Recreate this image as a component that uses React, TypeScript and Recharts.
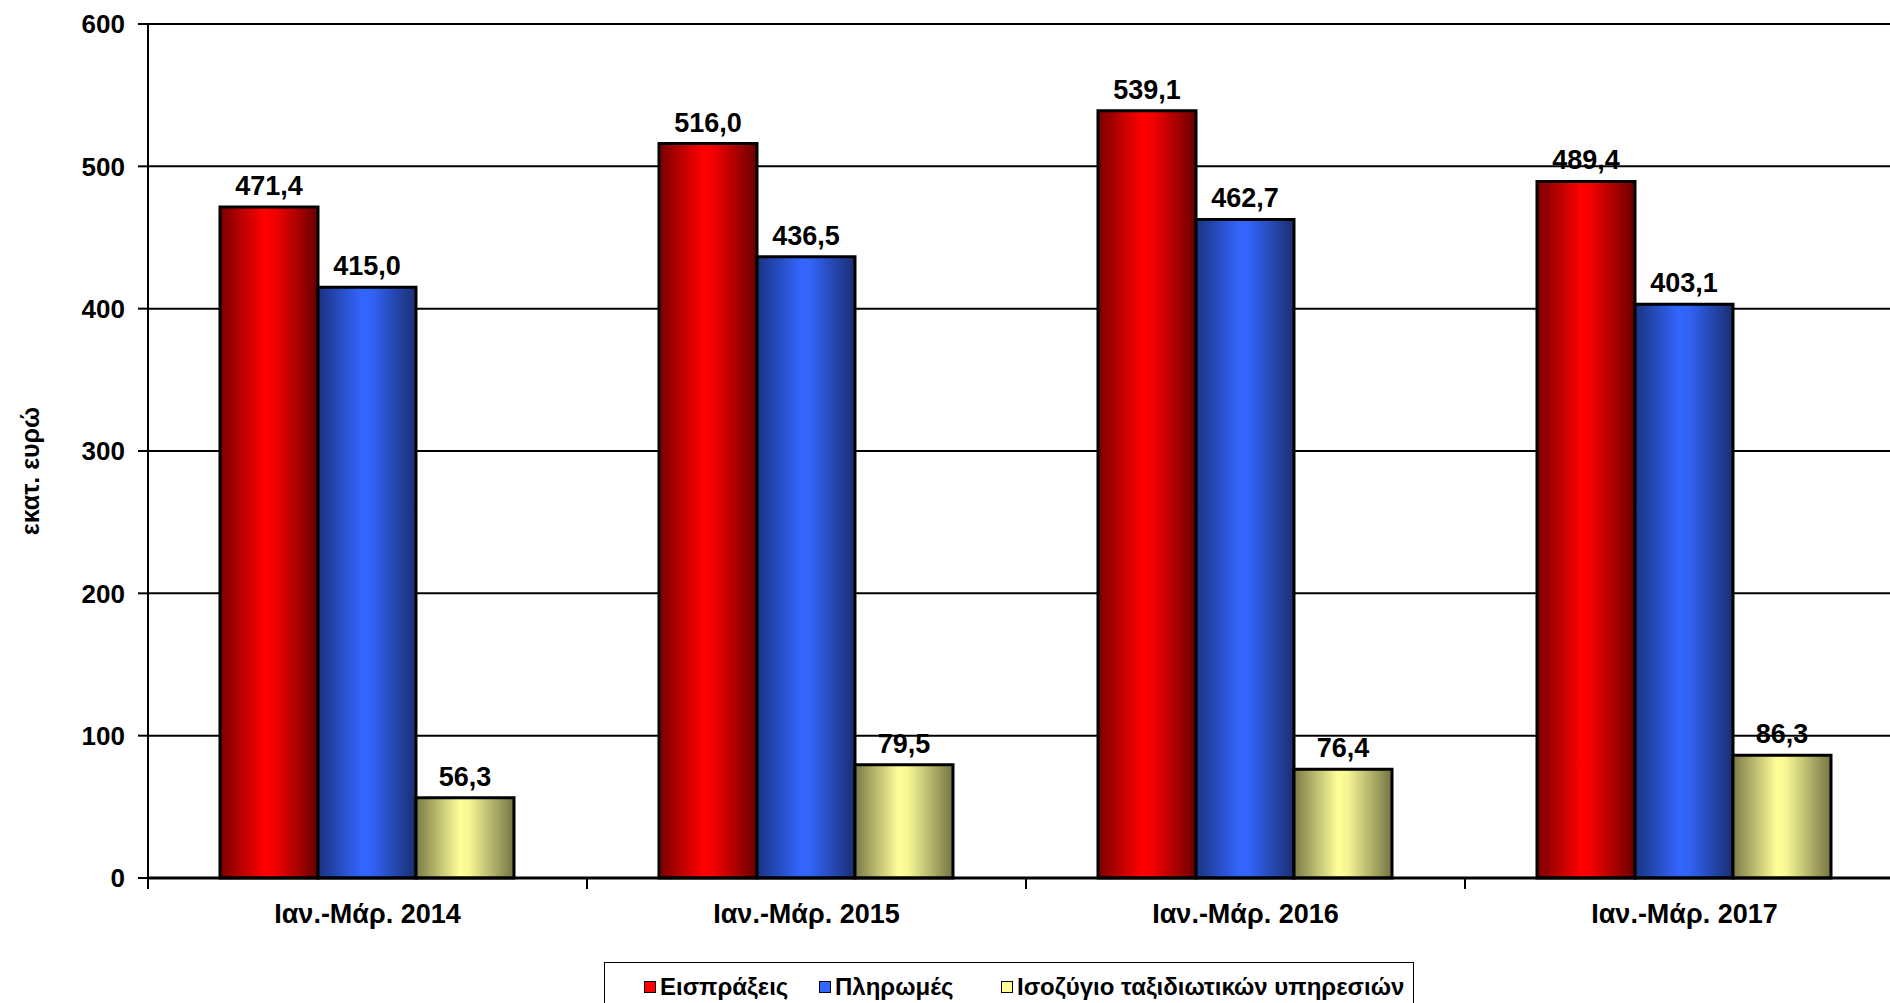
import React from 'react';
import { BarChart, Bar, XAxis, YAxis, CartesianGrid, LabelList, Legend } from 'recharts';

const categories = ['Ιαν.-Μάρ. 2014', 'Ιαν.-Μάρ. 2015', 'Ιαν.-Μάρ. 2016', 'Ιαν.-Μάρ. 2017'];
const receipts = [471.4, 516.0, 539.1, 489.4];
const payments = [415.0, 436.5, 462.7, 403.1];
const balance = [56.3, 79.5, 76.4, 86.3];
const yTicks = [0, 100, 200, 300, 400, 500, 600];
const seriesNames = ['Εισπράξεις', 'Πληρωμές', 'Ισοζύγιο ταξιδιωτικών υπηρεσιών'];
const yAxisTitle = 'εκατ. ευρώ';

const data = categories.map((c, i) => ({
  cat: c,
  receipts: receipts[i],
  payments: payments[i],
  balance: balance[i],
}));

const CHART_W = 1920;
const CHART_H = 1003;
const MARGIN = { top: 24, right: 16, left: 48, bottom: 85 };
const Y_AXIS_W = 100;
const X_AXIS_H = 40;
const PLOT_W = CHART_W - MARGIN.left - MARGIN.right - Y_AXIS_W;
const BAND = PLOT_W / categories.length;
const FONT = '"Liberation Sans", Arial, Helvetica, sans-serif';

const fmt = (v: any) => Number(v).toFixed(1).replace('.', ',');

const XTick = (props: any) => {
  const { x, y, payload, index } = props;
  const last = index === categories.length - 1;
  return (
    <g>
      <line x1={x - BAND / 2} x2={x - BAND / 2} y1={y} y2={y + 11} stroke="#000" strokeWidth={2} />
      {last && <line x1={x + BAND / 2} x2={x + BAND / 2} y1={y} y2={y + 11} stroke="#000" strokeWidth={2} />}
      <text x={x} y={y + 45} textAnchor="middle" fontFamily={FONT} fontWeight="bold" fontSize={27} fill="#000">
        {payload.value}
      </text>
    </g>
  );
};

const YLabel = () => (
  <text
    x={30}
    y={471}
    transform="rotate(-90, 30, 471)"
    textAnchor="middle"
    dominantBaseline="central"
    fontFamily={FONT}
    fontWeight="bold"
    fontSize={25}
    fill="#000"
  >
    {yAxisTitle}
  </text>
);

const legendColors = ['#ff0000', '#3366ff', '#ffff99'];
const legendItemLeft = [39, 214, 396];

const LegendBox = () => (
  <div
    style={{
      position: 'relative',
      width: 810,
      height: 60,
      border: '1.5px solid #000',
      boxSizing: 'border-box',
      background: '#fff',
      fontFamily: FONT,
    }}
  >
    {seriesNames.map((n, i) => (
      <div
        key={n}
        style={{
          position: 'absolute',
          left: legendItemLeft[i],
          top: 16,
          height: 16,
          display: 'flex',
          alignItems: 'center',
          whiteSpace: 'nowrap',
        }}
      >
        <span
          style={{
            display: 'inline-block',
            width: 10,
            height: 10,
            background: legendColors[i],
            border: '1.5px solid #000',
            marginRight: 4,
          }}
        />
        <span style={{ fontSize: 24, fontWeight: 'bold', color: '#000', lineHeight: '16px' }}>{n}</span>
      </div>
    ))}
  </div>
);

export default function App() {
  return (
    <div
      style={{
        position: 'absolute',
        left: 0,
        top: 0,
        width: 1890,
        height: 1003,
        overflow: 'hidden',
        background: '#fff',
      }}
    >
      <BarChart
        width={CHART_W}
        height={CHART_H}
        data={data}
        margin={MARGIN}
        barCategoryGap="16.4%"
        barGap={0}
      >
        <defs>
          <linearGradient id="gRed" x1="0" y1="0" x2="1" y2="0">
            <stop offset="0%" stopColor="#780000" />
            <stop offset="45%" stopColor="#ff0000" />
            <stop offset="55%" stopColor="#f50000" />
            <stop offset="100%" stopColor="#680000" />
          </linearGradient>
          <linearGradient id="gBlue" x1="0" y1="0" x2="1" y2="0">
            <stop offset="0%" stopColor="#1a3380" />
            <stop offset="45%" stopColor="#3366ff" />
            <stop offset="55%" stopColor="#3163f5" />
            <stop offset="100%" stopColor="#1a2e70" />
          </linearGradient>
          <linearGradient id="gYellow" x1="0" y1="0" x2="1" y2="0">
            <stop offset="0%" stopColor="#7a7a48" />
            <stop offset="45%" stopColor="#ffff99" />
            <stop offset="55%" stopColor="#f5f593" />
            <stop offset="100%" stopColor="#747444" />
          </linearGradient>
        </defs>
        <CartesianGrid vertical={false} stroke="#000" strokeWidth={2} />
        <XAxis
          dataKey="cat"
          height={X_AXIS_H}
          axisLine={{ stroke: '#000', strokeWidth: 3 }}
          tickLine={false}
          tickSize={0}
          tickMargin={0}
          tick={<XTick />}
          interval={0}
        />
        <YAxis
          width={Y_AXIS_W}
          domain={[0, 600]}
          ticks={yTicks}
          interval={0}
          tickSize={10}
          tickMargin={13}
          axisLine={{ stroke: '#000', strokeWidth: 2 }}
          tickLine={{ stroke: '#000', strokeWidth: 2 }}
          tick={{ fill: '#000', fontFamily: FONT, fontWeight: 'bold', fontSize: 26 }}
          label={<YLabel />}
        />
        <Legend
          layout="horizontal"
          verticalAlign="middle"
          align="center"
          wrapperStyle={{ left: 604, top: 962, width: 810, height: 60 }}
          content={<LegendBox />}
        />
        <Bar dataKey="receipts" name={seriesNames[0]} fill="url(#gRed)" stroke="#000" strokeWidth={3} isAnimationActive={false}>
          <LabelList dataKey="receipts" position="top" offset={12} formatter={fmt} fill="#000" fontFamily={FONT} fontWeight="bold" fontSize={27} />
        </Bar>
        <Bar dataKey="payments" name={seriesNames[1]} fill="url(#gBlue)" stroke="#000" strokeWidth={3} isAnimationActive={false}>
          <LabelList dataKey="payments" position="top" offset={12} formatter={fmt} fill="#000" fontFamily={FONT} fontWeight="bold" fontSize={27} />
        </Bar>
        <Bar dataKey="balance" name={seriesNames[2]} fill="url(#gYellow)" stroke="#000" strokeWidth={3} isAnimationActive={false}>
          <LabelList dataKey="balance" position="top" offset={12} formatter={fmt} fill="#000" fontFamily={FONT} fontWeight="bold" fontSize={27} />
        </Bar>
      </BarChart>
    </div>
  );
}
